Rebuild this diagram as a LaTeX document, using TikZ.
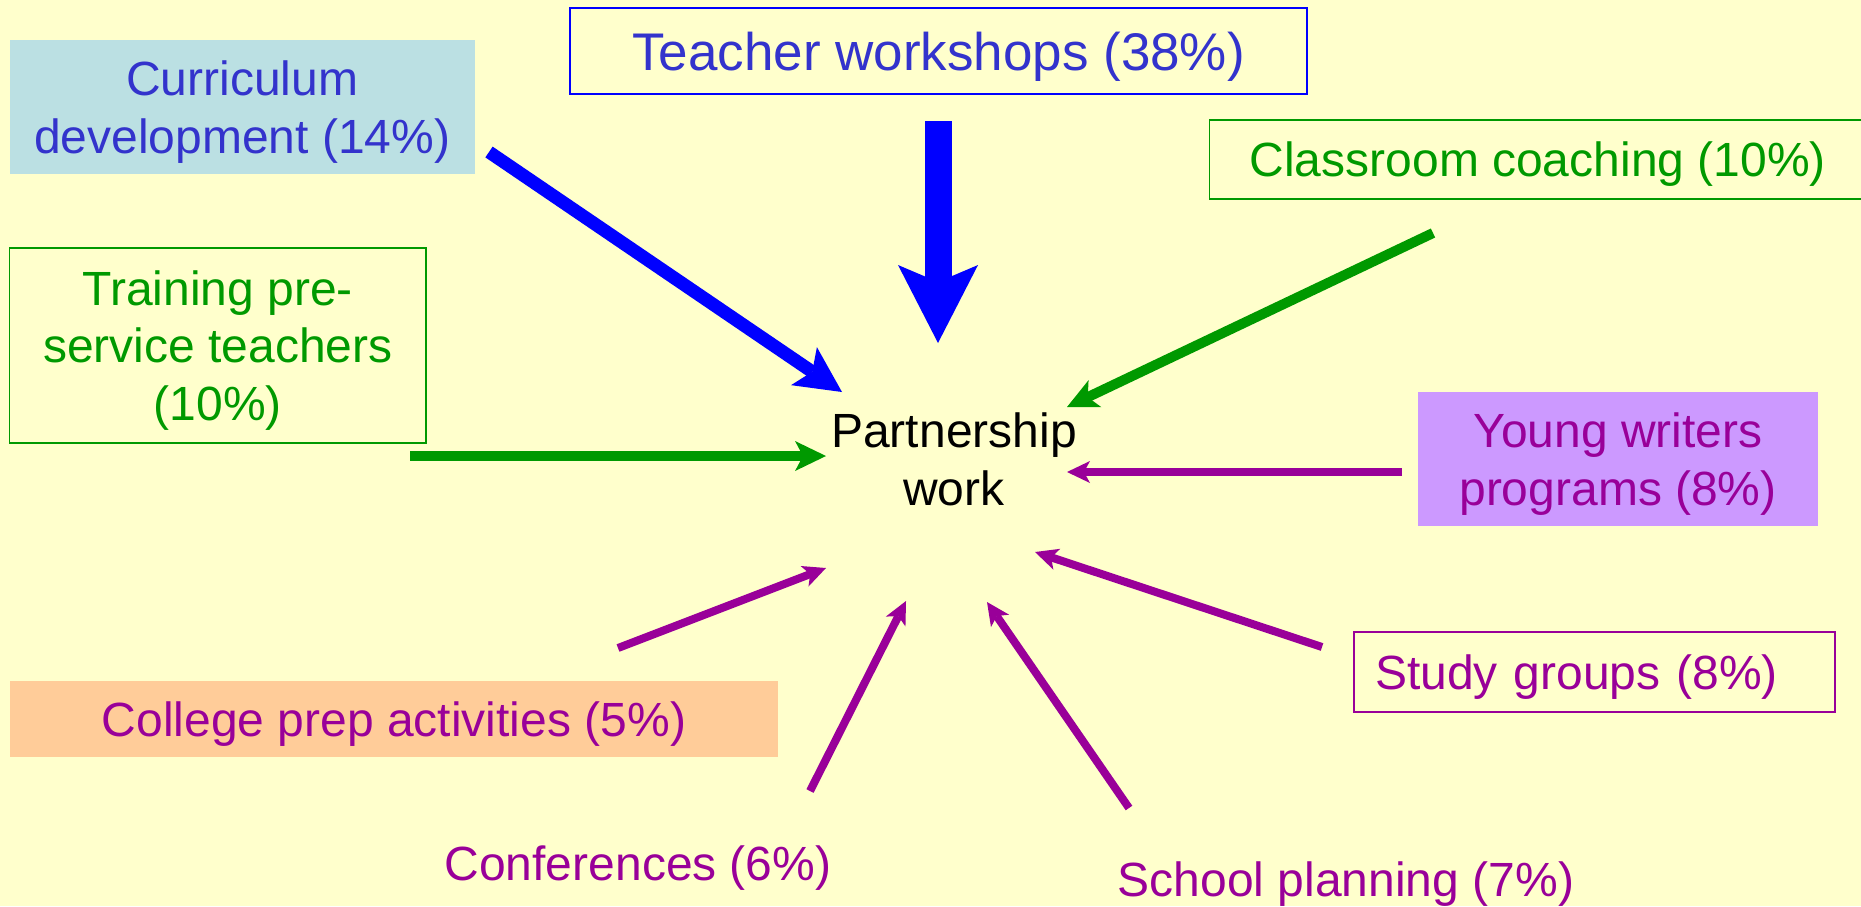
\documentclass[tikz,border=0pt]{standalone}
\usepackage{fontspec}
\setmainfont{Liberation Sans}
\usepackage{tikz}
\usetikzlibrary{arrows.meta}

\definecolor{paper}{HTML}{FFFFCC}
\definecolor{currfill}{HTML}{BBE0E3}
\definecolor{youngfill}{HTML}{CC99FF}
\definecolor{collegefill}{HTML}{FFCC99}
\definecolor{inkblue}{HTML}{3333CC}
\definecolor{lineblue}{HTML}{0000FF}
\definecolor{inkgreen}{HTML}{009900}
\definecolor{inkpurple}{HTML}{990099}

\begin{document}
\begin{tikzpicture}[x=0.5pt, y=-0.5pt]
  % ---- Slide area ---------------------------------------------
  \useasboundingbox (0,0) rectangle (1861,906);
  \fill[paper] (0,0) rectangle (1861,906);

  % ---- Styles -------------------------------------------------
  \tikzstyle{box}=[rectangle, inner sep=0pt, align=center, text depth=0pt,
                   font=\fontsize{24pt}{28.75pt}\selectfont]
  \tikzstyle{label}=[inner sep=0pt, anchor=base, text=inkpurple,
                     font=\fontsize{24pt}{28.75pt}\selectfont]
  \tikzstyle{bigarrow}=[draw=lineblue, line width=13.5pt,
      -{Stealth[length=39pt, width=40pt, inset=8.5pt, line width=0pt]}]
  \tikzstyle{bluearrow}=[draw=lineblue, line width=6.5pt,
      -{Stealth[length=23pt, width=23pt, inset=5pt, line width=0pt]}]
  \tikzstyle{greenarrow}=[draw=inkgreen, line width=5pt,
      -{Stealth[length=15.5pt, width=15pt, inset=4pt, line width=0pt]}]
  \tikzstyle{purplearrow}=[draw=inkpurple, line width=4pt,
      -{Stealth[length=11.5pt, width=11pt, inset=3pt, line width=0pt]}]

  % ---- Centre -------------------------------------------------
  \node[align=center, inner sep=0pt,
        font=\fontsize{24pt}{28.75pt}\selectfont] (hub) at (954,459.5)
        {Partnership\\work};

  % ---- Activity boxes (clockwise from top left) ---------------
  \node[box, fill=currfill, text=inkblue,
        minimum width=232.75pt, minimum height=67pt] (curr) at (242.25,107)
        {Curriculum\\development (14\%)};
  \node[box, draw=lineblue, line width=1pt, text=inkblue,
        font=\fontsize{26.5pt}{32pt}\selectfont,
        minimum width=368.5pt, minimum height=43pt] (teach) at (938.5,51)
        {Teacher workshops (38\%)};
  \node[box, draw=inkgreen, line width=0.75pt, text=inkgreen,
        minimum width=328.25pt, minimum height=39.5pt] (coach) at (1537.75,159.5)
        {Classroom coaching (10\%)};
  \node[box, draw=inkgreen, line width=0.75pt, text=inkgreen,
        minimum width=208.25pt, minimum height=97.5pt] (train) at (217.75,345.5)
        {Training pre-\\service teachers\\(10\%)};
  \node[box, fill=youngfill, text=inkpurple,
        minimum width=200pt, minimum height=67pt] (young) at (1618,459)
        {Young writers\\programs (8\%)};
  \node[box, draw=inkpurple, line width=0.75pt, text=inkpurple,
        align=left, text width=219.5pt, inner xsep=10.5pt,
        minimum height=40pt] (study) at (1594.5,672)
        {Study groups (8\%)};
  \node[box, fill=collegefill, text=inkpurple,
        minimum width=384pt, minimum height=38pt] (college) at (394,719)
        {College prep activities (5\%)};

  % ---- Free labels at the bottom ------------------------------
  \node[label] (conf)   at (638,880)  {Conferences (6\%)};
  \node[label] (school) at (1346,896) {School planning (7\%)};

  % ---- Arrow ends ---------------------------------------------
  \coordinate (currTail)    at (489,152);   \coordinate (currTip)    at (842,392);
  \coordinate (teachTail)   at (938,121);   \coordinate (teachTip)   at (938,343);
  \coordinate (coachTail)   at (1433,233);  \coordinate (coachTip)   at (1067,407);
  \coordinate (trainTail)   at (410,456);   \coordinate (trainTip)   at (826,456);
  \coordinate (youngTail)   at (1402,472);  \coordinate (youngTip)   at (1067,472);
  \coordinate (studyTail)   at (1322,647);  \coordinate (studyTip)   at (1035,552);
  \coordinate (schoolTail)  at (1129,808);  \coordinate (schoolTip)  at (987,602);
  \coordinate (confTail)    at (810,791);   \coordinate (confTip)    at (906,601);
  \coordinate (collegeTail) at (618,648);   \coordinate (collegeTip) at (826,568);

  % ---- Arrows into the centre ---------------------------------
  \draw[bluearrow]   (currTail)    -- (currTip);
  \draw[bigarrow]    (teachTail)   -- (teachTip);
  \draw[greenarrow]  (coachTail)   -- (coachTip);
  \draw[greenarrow]  (trainTail)   -- (trainTip);
  \draw[purplearrow] (youngTail)   -- (youngTip);
  \draw[purplearrow] (studyTail)   -- (studyTip);
  \draw[purplearrow] (schoolTail)  -- (schoolTip);
  \draw[purplearrow] (confTail)    -- (confTip);
  \draw[purplearrow] (collegeTail) -- (collegeTip);

\end{tikzpicture}
\end{document}
